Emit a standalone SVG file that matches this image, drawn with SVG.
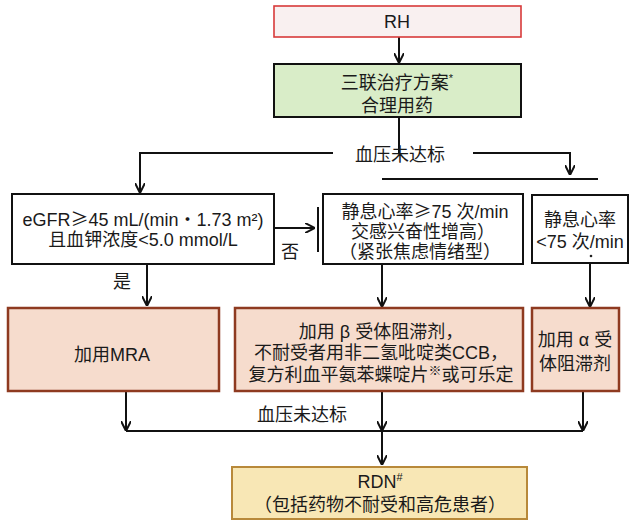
<svg xmlns="http://www.w3.org/2000/svg" width="632" height="523" viewBox="0 0 632 523">
<defs>
<style>
text{font-family:"Liberation Sans","Noto Sans CJK SC",sans-serif;font-size:18px;fill:#1a1a1a;text-anchor:middle}
.cj{font-family:"Noto Sans CJK SC",sans-serif}
.ln{stroke:#111;stroke-width:2;fill:none}
.bx{stroke:#111;stroke-width:2;fill:#fff}
.pk{fill:#f6dccd;stroke:#8e3a20;stroke-width:2.5}
.sup{font-size:11px}
</style>
<marker id="ah" viewBox="0 0 10 10" refX="9" refY="5" markerWidth="10" markerHeight="10" markerUnits="userSpaceOnUse" orient="auto">
<path d="M0,0 L10,5 L0,10" fill="none" stroke="#111" stroke-width="2"/>
</marker>
</defs>
<rect width="632" height="523" fill="#fff"/>
<g id="connectors">
<line class="ln" x1="399" y1="37" x2="399" y2="62" marker-end="url(#ah)"/>
<line class="ln" x1="399" y1="117" x2="399" y2="153"/>
<polyline class="ln" points="333,153 140,153 140,192" marker-end="url(#ah)"/>
<polyline class="ln" points="473,153 570,153 570,174" marker-end="url(#ah)"/>
<line class="ln" x1="382" y1="179" x2="598" y2="179"/>
<line class="ln" x1="274" y1="228" x2="314" y2="228" marker-end="url(#ah)"/>
<line class="ln" x1="318" y1="207" x2="318" y2="252"/>
<line class="ln" x1="147" y1="264" x2="147" y2="305" marker-end="url(#ah)"/>
<line class="ln" x1="382" y1="264" x2="382" y2="306" marker-end="url(#ah)"/>
<line class="ln" x1="590" y1="263" x2="590" y2="306" marker-end="url(#ah)"/>
<line class="ln" x1="126" y1="391" x2="126" y2="430" marker-end="url(#ah)"/>
<line class="ln" x1="382" y1="391" x2="382" y2="430" marker-end="url(#ah)"/>
<line class="ln" x1="583" y1="391" x2="583" y2="430" marker-end="url(#ah)"/>
<line class="ln" x1="126" y1="431" x2="583" y2="431"/>
<line class="ln" x1="382" y1="431" x2="382" y2="464" marker-end="url(#ah)"/>
<text x="400" y="161">血压未达标</text>
<text x="290" y="258">否</text>
<text x="122" y="288">是</text>
<text x="302" y="421">血压未达标</text>
</g>
<g id="rh">
<rect x="274" y="6" width="247" height="31" fill="#f9f0f0" stroke="#d83a3a" stroke-width="1.6"/>
<text x="397" y="28">RH</text>
</g>
<g id="triple">
<rect x="274" y="64" width="247" height="53" fill="#d9edc8" stroke="#111" stroke-width="2"/>
<text x="397" y="89">三联治疗方案<tspan class="sup" dy="-7">*</tspan></text>
<text x="397" y="112">合理用药</text>
</g>
<g id="egfr">
<rect class="bx" x="12" y="194" width="262" height="70"/>
<text x="143" y="226">eGFR<tspan class="cj">≥</tspan>45 mL/(min<tspan class="cj">・</tspan>1.73 m²)</text>
<text x="143" y="246">且血钾浓度&lt;5.0 mmol/L</text>
</g>
<g id="hr-high">
<rect class="bx" x="323" y="194" width="200" height="70"/>
<text x="425" y="218">静息心率<tspan class="cj">≥</tspan>75 次/min</text>
<text x="423" y="238">交感兴奋性增高）</text>
<text x="420" y="258">（紧张焦虑情绪型）</text>
</g>
<g id="hr-low">
<rect class="bx" x="532" y="195" width="96" height="68"/>
<text x="580" y="226">静息心率</text>
<text x="580" y="248">&lt;75 次/min</text>
<circle cx="591" cy="256" r="1.3" fill="#222"/>
</g>
<g id="mra">
<rect class="pk" x="8" y="308" width="211" height="83"/>
<text x="112" y="361">加用MRA</text>
</g>
<g id="beta">
<rect class="pk" x="235" y="308" width="288" height="83"/>
<text x="381" y="338">加用 β 受体阻滞剂，</text>
<text x="381" y="359">不耐受者用非二氢吡啶类CCB，</text>
<text x="381" y="381">复方利血平氨苯蝶啶片<tspan style="font-size:13px" dy="-6">※</tspan><tspan dy="6">或可乐定</tspan></text>
</g>
<g id="alpha">
<rect class="pk" x="532" y="308" width="87" height="83"/>
<text x="575" y="346">加用 α 受</text>
<text x="575" y="370">体阻滞剂</text>
</g>
<g id="rdn">
<rect x="232" y="467" width="295" height="52" fill="#f8e7b5" stroke="#b8893a" stroke-width="2"/>
<text x="380" y="488">RDN<tspan class="sup" dy="-7">#</tspan></text>
<text x="380" y="511">（包括药物不耐受和高危患者）</text>
</g>
</svg>
